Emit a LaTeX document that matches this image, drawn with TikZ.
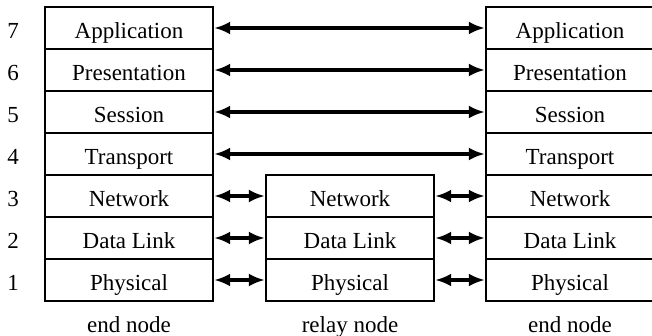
\documentclass[tikz,border=0pt]{standalone}
\usepackage{fontspec}
\setmainfont{Liberation Serif}
\usetikzlibrary{arrows.meta}
\begin{document}
\begin{tikzpicture}[x=1pt,y=-1pt,
  layer/.style={draw,line width=1.2pt,minimum width=168pt,minimum height=42pt,inner sep=0pt,text height=21pt,text depth=0pt,font=\fontsize{23}{27}\selectfont},
  rlayer/.style={layer,minimum width=200pt,execute at begin node={\hspace*{-32pt}}},
  lbl/.style={inner sep=0pt,text height=21pt,text depth=0pt,font=\fontsize{23}{27}\selectfont},
  foot/.style={inner sep=0pt,anchor=base,font=\fontsize{23}{27}\selectfont},
  link/.style={line width=3.6pt,{Latex[length=16pt,width=13pt]}-{Latex[length=16pt,width=13pt]},shorten <=0.6pt,shorten >=0.6pt}]
\useasboundingbox (0,0) rectangle (652,336);
\clip (0,0) rectangle (652,336);
\foreach \i/\t/\y in {7/Application/28,6/Presentation/70,5/Session/112,4/Transport/154,3/Network/196,2/Data Link/238,1/Physical/280}{
  \node[lbl] (n\i) at (13,\y) {\i};
  \node[layer] (L\i) at (129,\y) {\t};
  \node[rlayer] (R\i) at (586,\y) {\t};
}
\foreach \i/\t/\y in {3/Network/196,2/Data Link/238,1/Physical/280}{
  \node[layer] (M\i) at (350,\y) {\t};
}
\foreach \i in {7,6,5,4}{\draw[link] (L\i.east) -- (R\i.west);}
\foreach \i in {3,2,1}{
  \draw[link] (L\i.east) -- (M\i.west);
  \draw[link] (M\i.east) -- (R\i.west);
}
\node[foot] (e1) at (129,332) {end node};
\node[foot] (rl) at (350,332) {relay node};
\node[foot] (e2) at (570,332) {end node};
\end{tikzpicture}
\end{document}
